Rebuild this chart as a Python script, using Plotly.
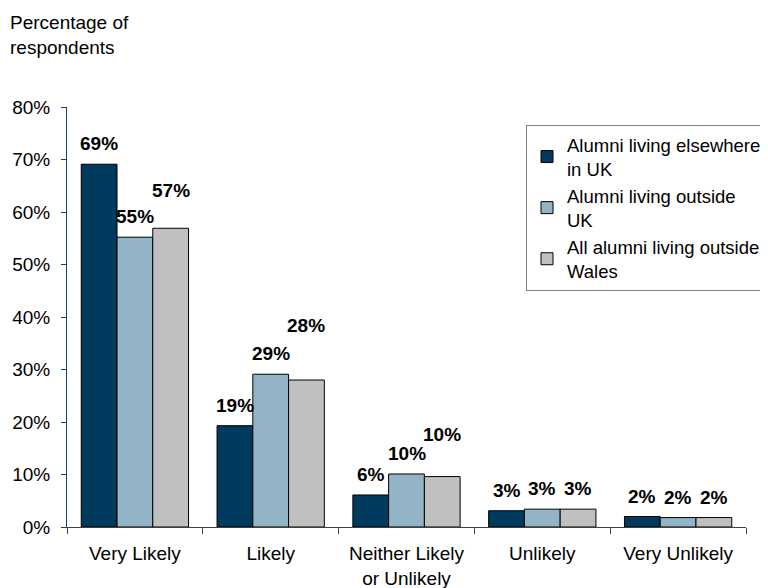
import plotly.graph_objects as go

# Data (percent of respondents)
categories = ["Very Likely", "Likely", "Neither Likely<br>or Unlikely", "Unlikely", "Very Unlikely"]
series_names = [
    "Alumni living elsewhere<br>in UK",
    "Alumni living outside<br>UK",
    "All alumni living outside<br>Wales",
]
elsewhere_uk = [69.1, 19.3, 6.1, 3.1, 2.0]
outside_uk = [55.2, 29.1, 10.1, 3.4, 1.8]
outside_wales = [56.9, 28.0, 9.6, 3.4, 1.8]
y_ticks = [0, 10, 20, 30, 40, 50, 60, 70, 80]

series_values = [elsewhere_uk, outside_uk, outside_wales]
colors = ["#003a5c", "#93b3c7", "#c0c0c0"]

# extra vertical lift (px) for labels the original placed higher
label_lift = [
    [0, 0, 0, 0, 0],
    [0, 0, 0, 0, 0],
    [17, 34, 22, 0, 0],
]

FONT = "Liberation Sans, Arial, sans-serif"
# the html body has an 8px margin, so the figure is 8px smaller than the window
PAD = 8
W, H = 768 - PAD, 588 - PAD
margin = dict(l=67 - PAD, r=22, t=107 - PAD, b=61, autoexpand=False)
bargap = 0.21

fig = go.Figure()
for name, vals, col in zip(series_names, series_values, colors):
    fig.add_trace(
        go.Bar(
            x=categories,
            y=vals,
            name=name,
            marker=dict(color=col, line=dict(color="black", width=1)),
        )
    )

# value labels centred above each bar
plot_w = W - margin["l"] - margin["r"]
plot_h = H - margin["t"] - margin["b"]
bar_w = plot_w / len(categories) * (1 - bargap) / len(series_values)
for i, vals in enumerate(series_values):
    for j, v in enumerate(vals):
        fig.add_annotation(
            x=categories[j],
            y=v,
            text=f"<b>{round(v)}%</b>",
            showarrow=False,
            xshift=(i - 1) * bar_w,
            yshift=8 + label_lift[i][j],
            yanchor="bottom",
            font=dict(family=FONT, size=19, color="black"),
        )

# axis caption, top-left corner
fig.add_annotation(
    text="Percentage of<br>respondents",
    xref="paper",
    yref="paper",
    x=-margin["l"] / plot_w,
    y=(H - margin["b"] - 2) / plot_h,
    xanchor="left",
    yanchor="top",
    align="left",
    showarrow=False,
    font=dict(family=FONT, size=19, color="black"),
)

fig.update_layout(
    width=W,
    height=H,
    margin=margin,
    paper_bgcolor="white",
    plot_bgcolor="white",
    barmode="group",
    bargap=bargap,
    bargroupgap=0,
    font=dict(family=FONT, size=19, color="black"),
    showlegend=True,
    legend=dict(
        x=(526 - PAD - margin["l"]) / plot_w,
        y=(H - margin["b"] - (125 - PAD)) / plot_h,
        xanchor="left",
        yanchor="top",
        bgcolor="white",
        bordercolor="#808080",
        borderwidth=1,
        itemwidth=30,
        tracegroupgap=0,
        font=dict(family=FONT, size=18.5, color="black"),
    ),
    xaxis=dict(
        showline=True,
        linecolor="#404040",
        linewidth=1,
        ticks="outside",
        tickson="boundaries",
        ticklen=6,
        tickcolor="#404040",
        ticklabelstandoff=9,
        showgrid=False,
    ),
    yaxis=dict(
        range=[0, 80],
        tickvals=y_ticks,
        ticktext=[f"{t}%" for t in y_ticks],
        showline=True,
        linecolor="#1c3f5a",
        linewidth=1,
        ticks="outside",
        ticklen=5,
        tickcolor="#1c3f5a",
        ticklabelstandoff=7,
        showgrid=False,
        zeroline=False,
    ),
)

fig.write_html("out.html")
